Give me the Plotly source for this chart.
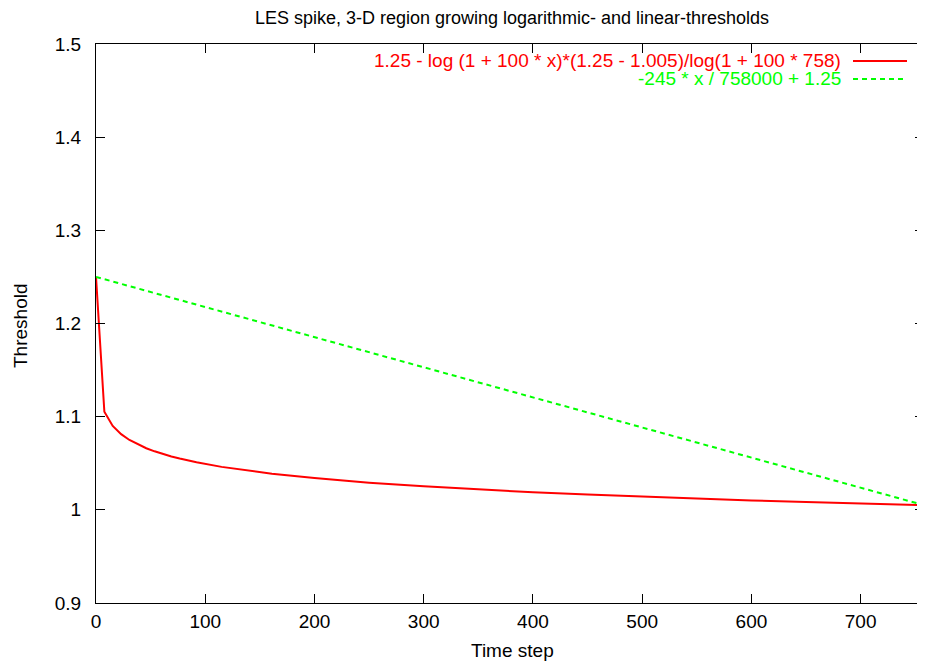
import plotly.graph_objects as go

# Data
x_log = [0, 7.66, 15.3, 23, 30.6, 38.3, 46, 53.6, 61.3, 69, 76.6, 92, 115, 138, 161,
         200, 250, 300, 350, 400, 450, 500, 550, 600, 650, 700, 758]
y_log = [1.25, 1.1052, 1.0901, 1.0812, 1.0750, 1.0701, 1.0661, 1.0628, 1.0598, 1.0573,
         1.0550, 1.0510, 1.0461, 1.0421, 1.0388, 1.0341, 1.0292, 1.0252, 1.0218, 1.0189,
         1.0164, 1.0141, 1.0120, 1.0101, 1.0084, 1.0067, 1.005]
x_lin = [0, 758]
y_lin = [1.25, 1.005]

name_log = "1.25 - log (1 + 100 * x)*(1.25 - 1.005)/log(1 + 100 * 758)"
name_lin = "-245 * x / 758000 + 1.25"
x_ticks = [0, 100, 200, 300, 400, 500, 600, 700]
y_ticks = [0.9, 1.0, 1.1, 1.2, 1.3, 1.4, 1.5]
y_tick_labels = ["0.9", "1", "1.1", "1.2", "1.3", "1.4", "1.5"]

RED = "#ff0000"
GREEN = "#00ff00"
FONT = "Liberation Sans, Arial, sans-serif"
FS = 19

W, H = 925, 665
ML, MR, MT, MB = 88, 9, 36, 70
PW, PH = W - ML - MR, H - MT - MB


def px(xp):
    return (xp - ML) / PW


def py(yp):
    return (H - MB - yp) / PH


fig = go.Figure()
fig.add_trace(go.Scatter(x=x_log, y=y_log, mode="lines", name=name_log,
                         line=dict(color=RED, width=2)))
fig.add_trace(go.Scatter(x=x_lin, y=y_lin, mode="lines", name=name_lin,
                         line=dict(color=GREEN, width=2, dash="5px,4px")))

axis_common = dict(showgrid=False, zeroline=False, showline=True, linecolor="black",
                   linewidth=1, mirror="ticks", ticks="inside", ticklen=9,
                   tickcolor="black", tickwidth=1, automargin=False,
                   tickfont=dict(family=FONT, size=FS, color="black"))

fig.update_layout(
    width=W, height=H,
    margin=dict(l=ML, r=MR, t=MT, b=MB),
    paper_bgcolor="white", plot_bgcolor="white",
    showlegend=False,
    title=dict(text="LES spike, 3-D region growing logarithmic- and linear-thresholds",
               xref="container", x=504 / W, xanchor="center",
               yref="container", y=1 - 9.5 / H, yanchor="middle",
               font=dict(family=FONT, size=18, color="black")),
    xaxis=dict(range=[0, 758], tickvals=x_ticks, ticklabelstandoff=1, **axis_common),
    yaxis=dict(range=[0.9, 1.5], tickvals=y_ticks, ticktext=y_tick_labels,
               ticklabelstandoff=10, **axis_common),
)

# Axis titles
fig.add_annotation(text="Time step", xref="paper", yref="paper", x=px(504), y=py(643),
                   xanchor="center", yanchor="middle", showarrow=False,
                   font=dict(family=FONT, size=FS, color="black"))
fig.add_annotation(text="Threshold", xref="paper", yref="paper", x=px(12), y=py(318),
                   xanchor="center", yanchor="middle", showarrow=False, textangle=-90,
                   font=dict(family=FONT, size=FS, color="black"))

# Gnuplot-style legend: right-aligned text with sample line on the right
legend_items = [(name_log, RED, "solid", 53), (name_lin, GREEN, "5px,4px", 71)]
for txt, col, dsh, yy in legend_items:
    fig.add_annotation(text=txt, xref="paper", yref="paper", x=px(835), y=py(yy),
                       xanchor="right", yanchor="middle", showarrow=False,
                       font=dict(family=FONT, size=FS, color=col))
    fig.add_shape(type="line", xref="paper", yref="paper", x0=px(845), x1=px(899),
                  y0=py(yy), y1=py(yy), line=dict(color=col, width=2, dash=dsh))

fig.write_html("out.html")
